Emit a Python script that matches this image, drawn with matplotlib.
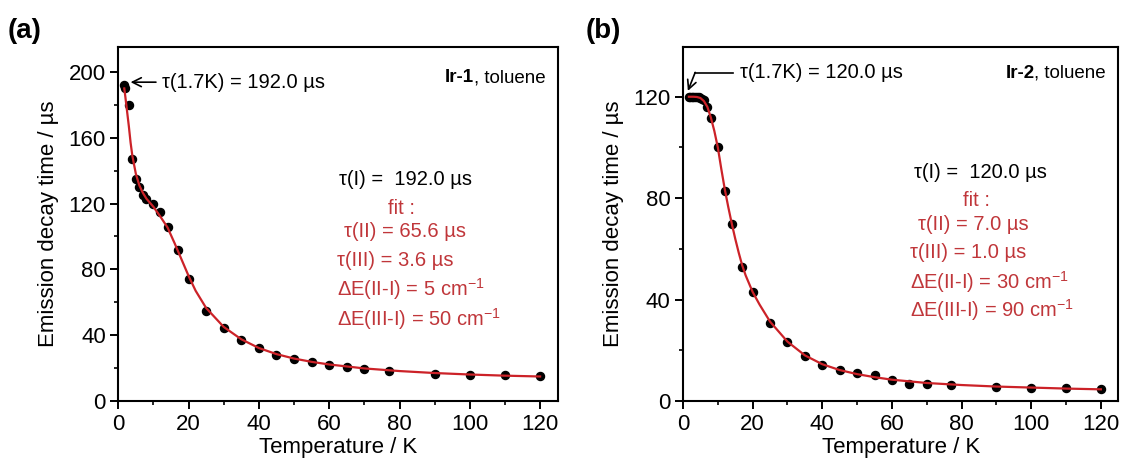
import matplotlib
matplotlib.use("Agg")
import matplotlib.pyplot as plt
from matplotlib.ticker import MultipleLocator

plt.rcParams['font.family'] = ['Liberation Sans', 'DejaVu Sans']
plt.rcParams['mathtext.fontset'] = 'custom'
plt.rcParams['mathtext.rm'] = 'Liberation Sans'
plt.rcParams['mathtext.it'] = 'Liberation Sans:italic'
plt.rcParams['mathtext.bf'] = 'Liberation Sans:bold'

# ---- Panel (a): Ir-1 in toluene ----
T_a = [1.7, 2, 3, 4, 5, 6, 7, 8, 10, 12, 14, 17, 20, 25, 30, 35, 40, 45, 50,
       55, 60, 65, 70, 77, 90, 100, 110, 120]
tau_a = [192, 190, 180, 147, 135, 130, 125, 123, 119.5, 115, 106, 91.5, 74, 55,
         44.5, 36.8, 32, 28, 25.5, 23.5, 22, 20.6, 19.4, 18.2, 16.6, 16, 15.8, 15.4]
Tfit_a = [1.7, 2, 2.5, 3, 3.5, 4, 5, 6, 7, 8, 10, 12, 14, 16, 18, 20, 22, 25, 30,
          35, 40, 45, 50, 55, 60, 70, 80, 90, 100, 110, 120]
taufit_a = [190, 185, 176, 167, 157, 149, 138, 131, 126.5, 123, 118, 112, 105.5,
            96, 86, 76, 67, 56.5, 45, 37.5, 32.2, 28.5, 25.8, 23.8, 22.2, 19.8,
            18.2, 17, 16.1, 15.4, 14.9]

# ---- Panel (b): Ir-2 in toluene ----
T_b = [1.7, 2, 2.5, 3, 3.5, 4, 4.5, 5, 5.5, 6, 7, 8, 10, 12, 14, 17, 20, 25, 30,
       35, 40, 45, 50, 55, 60, 65, 70, 77, 90, 100, 110, 120]
tau_b = [120, 120, 120, 120, 120, 120, 120, 119.7, 119.3, 118.7, 116, 111.5, 100,
         82.7, 70, 53, 43, 30.7, 23.1, 17.6, 14.2, 12.4, 11.1, 10.1, 8.2, 6.9,
         6.7, 6.4, 5.6, 5.3, 5.0, 4.6]
Tfit_b = [1.7, 3, 4, 5, 6, 7, 8, 9, 10, 11, 12, 13, 14, 15, 16, 17, 18, 20, 22,
          25, 30, 35, 40, 45, 50, 55, 60, 70, 80, 90, 100, 110, 120]
taufit_b = [120, 120, 119.9, 119.5, 118.3, 116, 111.8, 106.5, 100, 91.5, 83.5,
            76.5, 70, 64, 58.5, 53.5, 49.5, 43, 38, 31.3, 23.4, 18, 14.5, 12.2,
            10.6, 9.4, 8.4, 7.1, 6.3, 5.7, 5.3, 4.9, 4.6]

fit_params_a = ["fit :", r"τ(II) = 65.6 µs", r"τ(III) = 3.6 µs",
                r"ΔE(II-I) = 5 cm$^{-1}$", r"ΔE(III-I) = 50 cm$^{-1}$"]
fit_params_b = ["fit :", r"τ(II) = 7.0 µs", r"τ(III) = 1.0 µs",
                r"ΔE(II-I) = 30 cm$^{-1}$", r"ΔE(III-I) = 90 cm$^{-1}$"]

RED_LINE = '#cc2228'
RED_TEXT = '#c0363a'
FS_TICK = 16
FS_ANN = 14.5

W, H = 1125, 467
fig = plt.figure(figsize=(W / 100, H / 100), dpi=100)
ax1 = fig.add_axes([118.3 / W, 66 / H, 439.4 / W, 353.7 / H])
ax2 = fig.add_axes([683 / W, 66 / H, 435.3 / W, 353.7 / H])


def style(ax, ymax):
    ax.set_xlim(0, 125)
    ax.set_ylim(0, ymax)
    ax.xaxis.set_major_locator(MultipleLocator(20))
    ax.xaxis.set_minor_locator(MultipleLocator(10))
    ax.yaxis.set_major_locator(MultipleLocator(40))
    ax.yaxis.set_minor_locator(MultipleLocator(20))
    ax.tick_params(which='major', direction='out', length=6, width=1.4,
                   labelsize=FS_TICK, pad=3)
    ax.tick_params(which='minor', direction='out', length=3, width=1.2)
    for sp in ax.spines.values():
        sp.set_linewidth(1.5)
    ax.set_xlabel('Temperature / K', fontsize=FS_TICK, labelpad=2)
    ax.set_ylabel('Emission decay time / µs', fontsize=FS_TICK, labelpad=7)


def sample_label(ax, x, y, bold_part):
    t = ax.text(x, y, ', toluene', fontsize=13.5, va='center', ha='right')
    ax.annotate(bold_part, xy=(0, 0.5), xycoords=t, fontsize=13.5,
                fontweight='bold', va='center', ha='right')


# Panel (a)
ax1.plot(T_a, tau_a, 'o', color='black', markersize=5.8, zorder=2)
ax1.plot(Tfit_a, taufit_a, '-', color=RED_LINE, lw=1.6, zorder=3)
style(ax1, 215)
ax1.annotate('', xy=(2.7, 193.8), xytext=(11.5, 193.8),
             arrowprops=dict(arrowstyle='->', color='black', lw=1.2,
                             mutation_scale=16))
ax1.text(12.5, 193.8, 'τ(1.7K) = 192.0 µs', fontsize=FS_ANN, va='center', ha='left')
sample_label(ax1, 121.5, 196.5, 'Ir-1')
ax1.text(62.8, 134.9, 'τ(I) =  192.0 µs', fontsize=FS_ANN, va='center', ha='left')
pos_a = [(76.8, 117.3), (64.3, 103), (62.3, 85.7), (62.3, 68.1), (62.3, 50)]
for (x, y), s in zip(pos_a, fit_params_a):
    ax1.text(x, y, s, fontsize=FS_ANN, color=RED_TEXT, va='center', ha='left')

# Panel (b)
ax2.plot(T_b, tau_b, 'o', color='black', markersize=5.8, zorder=2)
ax2.plot(Tfit_b, taufit_b, '-', color=RED_LINE, lw=1.6, zorder=3)
style(ax2, 139.5)
ax2.plot([14.4, 3.4], [129.5, 129.5], color='black', lw=1.2)
ax2.annotate('', xy=(1.4, 122.3), xytext=(3.5, 129.6),
             arrowprops=dict(arrowstyle='->', color='black', lw=1.2,
                             mutation_scale=16, shrinkA=0, shrinkB=0))
ax2.text(16.3, 129.5, 'τ(1.7K) = 120.0 µs', fontsize=FS_ANN, va='center', ha='left')
sample_label(ax2, 121.5, 129.2, 'Ir-2')
ax2.text(66.4, 90.3, 'τ(I) =  120.0 µs', fontsize=FS_ANN, va='center', ha='left')
pos_b = [(80.5, 79.1), (67.4, 69.7), (65.3, 58.6), (65.3, 46.8), (65.3, 35.7)]
for (x, y), s in zip(pos_b, fit_params_b):
    ax2.text(x, y, s, fontsize=FS_ANN, color=RED_TEXT, va='center', ha='left')

fig.text(8 / W, 1 - 31 / H, '(a)', fontsize=20, fontweight='bold', va='center', ha='left')
fig.text(586 / W, 1 - 31 / H, '(b)', fontsize=20, fontweight='bold', va='center', ha='left')

fig.savefig('out.png', dpi=100)
